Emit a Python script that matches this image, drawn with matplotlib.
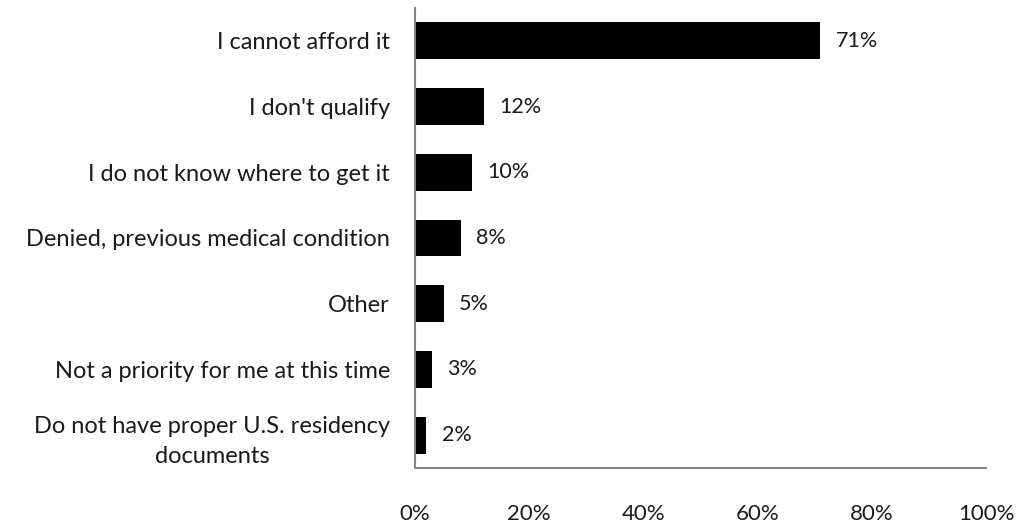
import matplotlib
matplotlib.use("Agg")
import matplotlib.pyplot as plt
from matplotlib.ticker import FuncFormatter

categories = [
    "I cannot afford it",
    "I don't qualify",
    "I do not know where to get it",
    "Denied, previous medical condition",
    "Other",
    "Not a priority for me at this time",
    "Do not have proper U.S. residency\ndocuments",
]
values = [71, 12, 10, 8, 5, 3, 2]
x_ticks = [0, 20, 40, 60, 80, 100]

plt.rcParams["font.family"] = ["Lato", "DejaVu Sans"]

fig = plt.figure(figsize=(10.21, 5.23), dpi=100)
ax = fig.add_axes([0.4065, 0.1052, 0.5592, 0.8795])

ypos = list(range(len(categories)))
ax.barh(ypos, values, height=0.56, color="black")
ax.set_ylim(len(categories) - 0.5, -0.5)
ax.set_xlim(0, 100)

for y, v in zip(ypos, values):
    ax.text(v + 2.7, y, f"{v}%", va="center", ha="left", fontsize=15.5, color="#1a1a1a")

ax.set_yticks(ypos)
ax.set_yticklabels(categories, fontsize=17, color="#1a1a1a",
                   multialignment="center", linespacing=1.55)
ax.set_xticks(x_ticks)
ax.xaxis.set_major_formatter(FuncFormatter(lambda v, p: f"{v:.0f}%"))
ax.tick_params(axis="x", length=0, pad=26, labelsize=16, labelcolor="#1a1a1a")
ax.tick_params(axis="y", length=0, pad=18)

for side in ("top", "right"):
    ax.spines[side].set_visible(False)
for side in ("left", "bottom"):
    ax.spines[side].set_color("#868686")
    ax.spines[side].set_linewidth(1.5)

fig.savefig("out.png", dpi=100)
